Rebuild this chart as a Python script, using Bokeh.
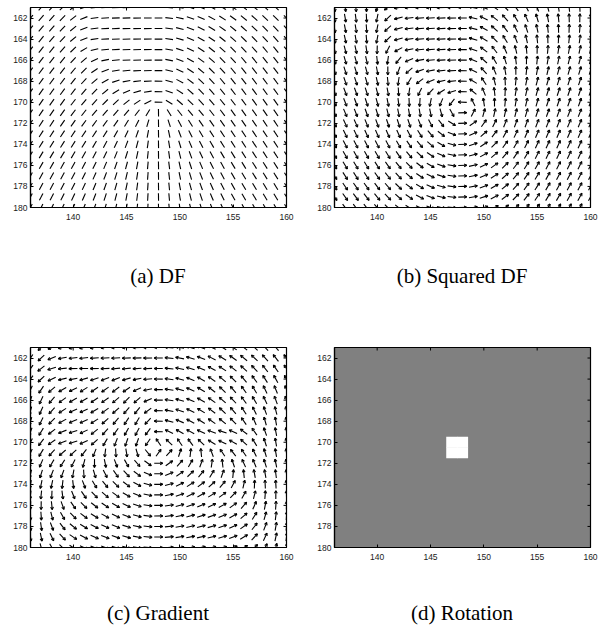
import numpy as np
from bokeh.plotting import figure
from bokeh.models import Range1d, FixedTicker, Div, ColumnDataSource
from bokeh.layouts import column, row
from bokeh.palettes import Greys256
from bokeh.transform import linear_cmap
from bokeh.embed import file_html
from bokeh.resources import INLINE

# ---------------- data ----------------
x_grid = list(range(136, 161))          # block columns
y_grid = list(range(161, 181))          # block rows
x_ticks = [140, 145, 150, 155, 160]
y_ticks = [162, 164, 166, 168, 170, 172, 174, 176, 178, 180]
captions = ["(a) DF", "(b) Squared DF", "(c) Gradient", "(d) Rotation"]

core_x = 148.0                          # singular point (core) location
core_y = 170.5
# ridge angle (deg, from horizontal) far on the left / right, per row 161..180
left_far = [50, 50.7, 51.4, 52.1, 52.8, 53.5, 54.2, 54.9, 55.6, 56.3,
            57, 57.7, 58.4, 59.1, 59.8, 60.5, 61.2, 61.9, 62.6, 63.3]
right_far = [129.5, 129, 128.5, 128, 127.5, 127, 126.5, 126, 125.5, 125,
             124, 123.6, 123.2, 122.8, 122.4, 122, 121.6, 121.2, 120.8, 120.4]
# rows above the core (161..170): shape of the arches seen in panel (a)
upper_rows = [161, 162, 163, 164, 165, 166, 167, 168, 169, 170]
left_edge = [7.2, 7.0, 7.0, 7.0, 6.5, 5.8, 5.2, 4.6, 3.5, 2.2]
left_soft = [0.5, 0.5, 0.5, 0.5, 0.55, 0.6, 0.7, 0.8, 0.9, 0.9]
right_bend = [6.2, 5.7, 5.2, 4.7, 4.0, 3.5, 3.0, 2.4, 1.8, 1.3]
left_edge_angle = 40.0
# cells where the rotation (panel d) is non zero
singular_cells = [(147, 170), (148, 170), (147, 171), (148, 171)]

# ---------------- directional field ----------------
XX, YY = np.meshgrid(np.array(x_grid, float), np.array(y_grid, float))
alpha = np.zeros(XX.shape)
for i, yv in enumerate(y_grid):
    du = core_y - yv
    lf, rf = left_far[i], right_far[i]
    for j, xv in enumerate(x_grid):
        dx = xv - core_x
        pure = 0.5 * np.degrees(np.arctan2(du, dx)) + 135.0
        sl = 1.0 / (1.0 + np.exp(-((-dx) - 7.0) / 1.5))
        sr = 1.0 / (1.0 + np.exp(-(dx - 5.0) / 1.5))
        lt = lf + 180.0 if du > 0 else lf
        base = pure + sl * (lt - pure) + sr * (rf - pure)
        if du > 0:
            k = upper_rows.index(yv)
            T, W, L = left_edge[k], left_soft[k], right_bend[k]
            if dx >= 0:
                F = 180.0 - (180.0 - rf) * np.tanh(0.75 * dx / L)
            else:
                d = -dx - T
                S = 1.0 / (1.0 + np.exp(-d / W))
                F = (180.0 + S * (left_edge_angle + (lf - left_edge_angle) * np.tanh(max(d, 0.0) / 2.5))
                     + 0.5 * (-dx) * (1 - S))
            w = np.tanh(du / 2.5)
            alpha[i, j] = (1 - w) * base + w * F
        else:
            alpha[i, j] = base
alpha = np.mod(alpha, 180.0)
ar = np.radians(alpha)

# (a) orientation in data coords (y axis reversed)
ua = np.cos(ar)
va = -np.sin(ar)
# (b) squared directional field
ub = -np.cos(2 * ar)
vb = np.sin(2 * ar)
# (c) gradient of the doubled angle
z = np.exp(1j * 2 * ar)


def wgrad(z, axis):
    out = np.zeros(z.shape)
    zz = np.moveaxis(z, axis, 0)
    oo = np.moveaxis(out, axis, 0)
    n = zz.shape[0]
    for m in range(n):
        if m == 0:
            oo[m] = np.angle(zz[1] * np.conj(zz[0]))
        elif m == n - 1:
            oo[m] = np.angle(zz[n - 1] * np.conj(zz[n - 2]))
        else:
            oo[m] = np.angle(zz[m + 1] * np.conj(zz[m - 1])) / 2.0
    return out


gx = wgrad(z, 1)
gy = wgrad(z, 0)
nrm = np.hypot(gx, gy) + 1e-12
uc = gx / nrm
vc = gy / nrm

rot = np.zeros(XX.shape)
for (cx, cy) in singular_cells:
    rot[y_grid.index(cy), x_grid.index(cx)] = 1.0

FW, FH = 256, 200
FONT = "Liberation Sans"


def make_panel(left, right, top, bottom):
    p = figure(width=left + FW + right, height=top + FH + bottom,
               x_range=Range1d(136, 160), y_range=Range1d(180, 161),
               output_backend="svg", toolbar_location=None,
               min_border_left=left, min_border_right=right,
               min_border_top=top, min_border_bottom=bottom)
    p.xaxis.ticker = FixedTicker(ticks=x_ticks)
    p.yaxis.ticker = FixedTicker(ticks=y_ticks)
    for ax in (p.xaxis[0], p.yaxis[0]):
        ax.major_tick_in = 3
        ax.major_tick_out = 0
        ax.minor_tick_line_color = None
        ax.axis_line_color = "black"
        ax.axis_line_width = 1.2
        ax.major_tick_line_color = "black"
        ax.major_label_text_font = FONT
        ax.major_label_text_font_size = "8.5px"
        ax.major_label_text_color = "#1a1a1a"
    p.xaxis.major_label_standoff = 6
    p.yaxis.major_label_standoff = 3
    p.xgrid.visible = False
    p.ygrid.visible = False
    p.outline_line_color = "black"
    p.outline_line_width = 1.2
    p.background_fill_color = "white"
    p.border_fill_color = "white"
    return p


def mirror_ticks(p):
    p.scatter(x=x_ticks, y=[161] * len(x_ticks), marker="dash", angle=np.pi / 2,
              size=6, line_color="black", line_width=1)
    p.scatter(x=[160] * len(y_ticks), y=y_ticks, marker="dash",
              size=6, line_color="black", line_width=1)


def draw_field(p, u, v, L, head):
    xs = XX.ravel(); ys = YY.ravel(); u = u.ravel(); v = v.ravel()
    x0 = xs - 0.5 * L * u; y0 = ys - 0.5 * L * v
    x1 = xs + 0.5 * L * u; y1 = ys + 0.5 * L * v
    p.segment(x0=x0, y0=y0, x1=x1, y1=y1, line_color="black", line_width=1.1)
    if head:
        hl = 0.28
        a = np.radians(28)
        for s in (1, -1):
            ca, sa = np.cos(s * a), np.sin(s * a)
            hx = -(u * ca - v * sa)
            hy = -(u * sa + v * ca)
            p.segment(x0=x1, y0=y1, x1=x1 + hl * hx, y1=y1 + hl * hy,
                      line_color="black", line_width=1.1)


pa = make_panel(30, 26, 7, 30)
draw_field(pa, ua, va, 0.72, False)
mirror_ticks(pa)

pb = make_panel(22, 12, 7, 30)
draw_field(pb, ub, vb, 0.8, True)
mirror_ticks(pb)

pc = make_panel(30, 26, 10, 30)
draw_field(pc, uc, vc, 0.8, True)
mirror_ticks(pc)

# (d) rotation: zero rotation shown as mid grey, non-zero cells in white
pd = make_panel(22, 12, 10, 30)
lo, hi = -1.0, 1.0
zero_idx = int(round((0.0 - lo) / (hi - lo) * (len(Greys256) - 1)))
pd.background_fill_color = Greys256[zero_idx]
mask = rot.ravel() != 0
src = ColumnDataSource(dict(x=XX.ravel()[mask], y=YY.ravel()[mask], r=rot.ravel()[mask]))
cmap = linear_cmap("r", Greys256, lo, hi)
pd.rect(x="x", y="y", width=1.05, height=1.05, source=src, fill_color=cmap,
        line_color=None)
mirror_ticks(pd)


def caption(text, W, H, c, pad_top):
    if 2 * c < W:
        pad = "padding-right:%dpx;" % (W - 2 * c)
    else:
        pad = "padding-left:%dpx;" % (2 * c - W)
    html = ('<div style="width:%dpx;box-sizing:border-box;%spadding-top:%dpx;'
            'text-align:center;font-family:\'Liberation Serif\';font-size:21px;'
            'line-height:14px;color:#000;white-space:nowrap;">%s</div>') % (W, pad, pad_top, text)
    return Div(text=html, width=W, height=H, margin=(0, 0, 0, 0))


wa = 30 + FW + 26
wb = 22 + FW + 12
da = caption(captions[0], wa, 100, 30 + FW // 2, 32)
db = caption(captions[1], wb, 100, 22 + FW // 2, 32)
dc = caption(captions[2], wa, 49, 30 + FW // 2, 29)
dd = caption(captions[3], wb, 49, 22 + FW // 2, 29)

layout = column(row(pa, pb), row(da, db), row(pc, pd), row(dc, dd))
open("out.html", "w").write(file_html(layout, INLINE))
